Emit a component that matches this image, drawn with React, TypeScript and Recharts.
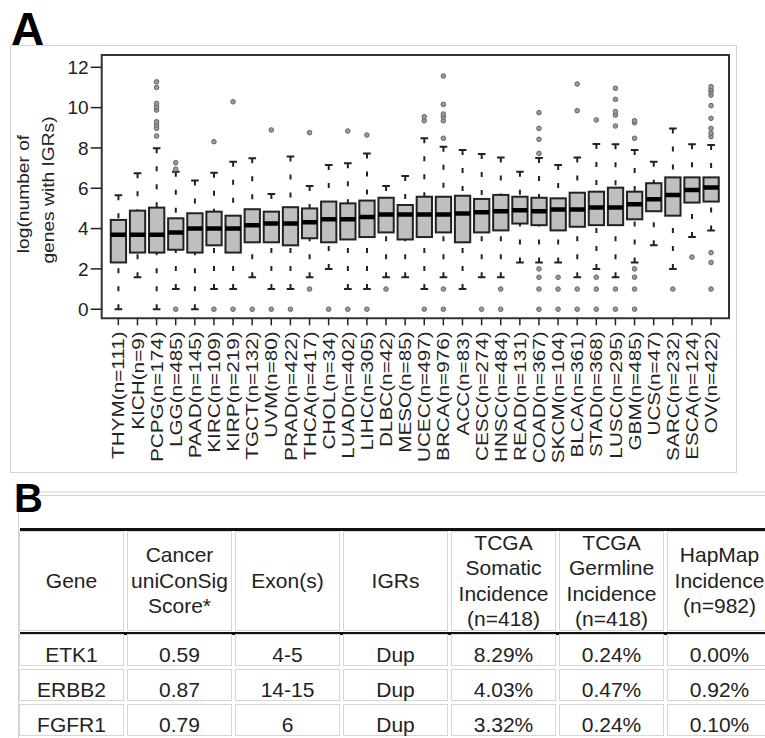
import React from "react";
import { Bar, ComposedChart, ReferenceArea, Scatter, XAxis, YAxis } from "recharts";

// panel A: one box per TCGA cancer type, values are log2(number of genes with IGRs)
const cancers = [
  "THYM(n=111)", "KICH(n=9)", "PCPG(n=174)", "LGG(n=485)", "PAAD(n=145)", "KIRC(n=109)",
  "KIRP(n=219)", "TGCT(n=132)", "UVM(n=80)", "PRAD(n=422)", "THCA(n=417)", "CHOL(n=34)",
  "LUAD(n=402)", "LIHC(n=305)", "DLBC(n=42)", "MESO(n=85)", "UCEC(n=497)", "BRCA(n=976)",
  "ACC(n=83)", "CESC(n=274)", "HNSC(n=484)", "READ(n=131)", "COAD(n=367)", "SKCM(n=104)",
  "BLCA(n=361)", "STAD(n=368)", "LUSC(n=295)", "GBM(n=485)", "UCS(n=47)", "SARC(n=232)",
  "ESCA(n=124)", "OV(n=422)",
];

const lowWhisker = [
  0, 1.585, 0, 1, 0, 1, 1, 1.585, 1, 1, 1.585, 2, 1, 1, 1.585, 1.585,
  1, 1.585, 1, 1.585, 1.585, 2.32, 2.32, 2.32, 1.585, 2, 1.585, 2.32, 3.17, 2, 3.58, 3.91,
];
const q1 = [
  2.32, 2.81, 2.81, 2.95, 2.81, 3.17, 2.81, 3.32, 3.32, 3.17, 3.52, 3.32, 3.46, 3.58, 3.81, 3.46,
  3.58, 3.81, 3.32, 3.81, 3.91, 4.25, 4.17, 3.91, 4.09, 4.17, 4.17, 4.46, 4.86, 4.64, 5.29, 5.34,
];
const medians = [
  3.7, 3.7, 3.7, 3.81, 4, 4, 4, 4.17, 4.25, 4.25, 4.32, 4.46, 4.46, 4.58, 4.7, 4.7,
  4.7, 4.7, 4.75, 4.81, 4.86, 4.91, 4.86, 4.95, 4.95, 5.04, 5.04, 5.21, 5.46, 5.67, 5.91, 6.04,
];
const q3 = [
  4.43, 4.89, 5.04, 4.51, 4.76, 4.84, 4.64, 4.96, 4.84, 5.06, 5.0, 5.34, 5.25, 5.39, 5.53, 5.17,
  5.58, 5.58, 5.63, 5.47, 5.67, 5.58, 5.53, 5.5, 5.78, 5.83, 6.03, 5.83, 6.25, 6.54, 6.54, 6.54,
];
const highWhisker = [
  5.65, 6.74, 7.98, 6.82, 6.38, 6.77, 7.32, 7.49, 5.72, 7.57, 6.11, 7.15, 7.24, 7.73, 6.11, 6.61,
  8.48, 8.06, 7.9, 7.7, 7.53, 6.82, 7.5, 7.15, 7.53, 8.2, 8.18, 7.9, 7.32, 8.97, 8.18, 8.15,
];
const outliers: number[][] = [
  [],
  [],
  [8.59, 8.97, 9.14, 9.3, 9.88, 10.04, 10.21, 11.0, 11.28],
  [0, 6.95, 7.27],
  [],
  [0, 8.31],
  [0, 10.29],
  [0],
  [0, 8.89],
  [0],
  [1, 8.76],
  [0],
  [0, 8.84],
  [0, 8.64],
  [1],
  [],
  [0, 9.35, 9.55],
  [0, 1, 8.48, 9.35, 9.55, 9.68, 10.16, 11.57],
  [],
  [0],
  [0, 1],
  [],
  [0, 1, 1.585, 2, 7.73, 8.43, 8.97, 9.75],
  [0, 1, 1.585],
  [0, 1, 9.85, 11.17],
  [0, 1, 1.585, 9.39],
  [0, 1, 9.09, 9.63, 9.8, 10.41, 10.96],
  [0, 1, 1.585, 2, 8.48, 9.25, 9.35],
  [],
  [1],
  [2.585],
  [1, 2.32, 2.81, 8.56, 8.73, 8.97, 9.47, 10.1, 10.62, 10.79, 10.9, 11.04],
];
const yTicks = [0, 2, 4, 6, 8, 10, 12];

// panel B table
const headerLines = [
  ["Gene"],
  ["Cancer", "uniConSig", "Score*"],
  ["Exon(s)"],
  ["IGRs"],
  ["TCGA", "Somatic", "Incidence", "(n=418)"],
  ["TCGA", "Germline", "Incidence", "(n=418)"],
  ["HapMap", "Incidence", "(n=982)"],
];
const genes = ["ETK1", "ERBB2", "FGFR1"];
const uniConSig = ["0.59", "0.87", "0.79"];
const exons = ["4-5", "14-15", "6"];
const igrs = ["Dup", "Dup", "Dup"];
const somatic = ["8.29%", "4.03%", "3.32%"];
const germline = ["0.24%", "0.47%", "0.24%"];
const hapmap = ["0.00%", "0.92%", "0.10%"];

const rows = cancers.map((name, i) => ({
  i,
  name,
  lo: lowWhisker[i],
  q1: q1[i],
  med: medians[i],
  q3: q3[i],
  hi: highWhisker[i],
}));
const outlierPoints = outliers.flatMap((vals, i) => vals.map((v) => ({ i, v })));
const tableRows = genes.map((g, r) => [g, uniConSig[r], exons[r], igrs[r], somatic[r], germline[r], hapmap[r]]);

const X_DOMAIN: [number, number] = [-0.87, 31.94];
const Y_DOMAIN: [number, number] = [-0.45, 12.61];
const BOX_W = 15.3;
const INK = "#222";
const FONT = '"Liberation Sans", Arial, Helvetica, sans-serif';

const span = (p: any) => {
  const top = Math.min(p.y, p.y + p.height);
  const bot = Math.max(p.y, p.y + p.height);
  return { cx: p.x + p.width / 2, top, bot };
};

const LowerWhisker = (p: any) => {
  const { cx, top, bot } = span(p);
  return (
    <g stroke={INK} strokeWidth={2}>
      <line x1={cx} x2={cx} y1={bot} y2={top} strokeDasharray="5 13" />
      <line x1={cx - BOX_W / 4} x2={cx + BOX_W / 4} y1={bot} y2={bot} />
    </g>
  );
};

const UpperWhisker = (p: any) => {
  const { cx, top, bot } = span(p);
  return (
    <g stroke={INK} strokeWidth={2}>
      <line x1={cx} x2={cx} y1={top} y2={bot} strokeDasharray="5 13" />
      <line x1={cx - BOX_W / 4} x2={cx + BOX_W / 4} y1={top} y2={top} />
    </g>
  );
};

const BoxShape = (p: any) => {
  const { top, bot } = span(p);
  return <rect x={p.x} y={top} width={p.width} height={bot - top} fill="#bfbfbf" stroke={INK} strokeWidth={2} />;
};

const MedianShape = (p: any) => (
  <line x1={p.cx - BOX_W / 2} x2={p.cx + BOX_W / 2} y1={p.cy} y2={p.cy} stroke="#000" strokeWidth={4.5} />
);

const OutlierShape = (p: any) => <circle cx={p.cx} cy={p.cy} r={2.3} fill="#9a9a9a" stroke="#666" strokeWidth={1} />;

const CancerTick = ({ x, y, payload }: any) => (
  <text
    transform={`translate(${x},${y + 4}) rotate(-90) scale(1.22,1)`}
    textAnchor="end"
    dy="0.36em"
    fontSize={17}
    fontFamily={FONT}
    fill={INK}
  >
    {cancers[payload.value]}
  </text>
);

function BoxPanel() {
  return (
    <ComposedChart width={765} height={475} data={rows} margin={{ top: 55, right: 36, bottom: 6.7, left: 41.7 }}>
      <XAxis
        xAxisId="a"
        type="number"
        dataKey="i"
        domain={X_DOMAIN}
        allowDataOverflow
        ticks={rows.map((r) => r.i)}
        interval={0}
        height={150}
        axisLine={false}
        tickSize={7}
        tickLine={{ stroke: INK, strokeWidth: 1.5 }}
        tick={<CancerTick />}
      />
      <XAxis xAxisId="b" type="number" dataKey="i" domain={X_DOMAIN} allowDataOverflow hide />
      <XAxis xAxisId="c" type="number" dataKey="i" domain={X_DOMAIN} allowDataOverflow hide />
      <YAxis
        type="number"
        domain={Y_DOMAIN}
        allowDataOverflow
        ticks={yTicks}
        interval={0}
        width={60}
        axisLine={false}
        tickSize={11}
        tickLine={{ stroke: INK, strokeWidth: 1.5 }}
        tick={{ fontSize: 19, fill: INK, fontFamily: FONT }}
      />
      <Bar xAxisId="b" dataKey={(d: any) => [d.lo, d.q1]} barSize={BOX_W} shape={LowerWhisker} isAnimationActive={false} />
      <Bar xAxisId="c" dataKey={(d: any) => [d.q3, d.hi]} barSize={BOX_W} shape={UpperWhisker} isAnimationActive={false} />
      <Bar xAxisId="a" dataKey={(d: any) => [d.q1, d.q3]} barSize={BOX_W} shape={BoxShape} isAnimationActive={false} />
      <Scatter xAxisId="a" data={rows} dataKey="med" shape={MedianShape} isAnimationActive={false} />
      <Scatter xAxisId="a" data={outlierPoints} dataKey="v" shape={OutlierShape} isAnimationActive={false} />
      <ReferenceArea
        xAxisId="a"
        x1={X_DOMAIN[0]}
        x2={X_DOMAIN[1]}
        y1={Y_DOMAIN[0]}
        y2={Y_DOMAIN[1]}
        fill="none"
        fillOpacity={0}
        stroke="#333"
        strokeWidth={2}
        ifOverflow="visible"
      />
    </ComposedChart>
  );
}

const cellBase: React.CSSProperties = {
  border: "1px solid #d6d6d6",
  padding: 0,
  textAlign: "center",
  fontSize: 21,
  color: INK,
};

function GeneTable() {
  return (
    <table
      style={{
        position: "absolute",
        left: 16,
        top: 527.7,
        width: 759,
        tableLayout: "fixed",
        borderCollapse: "separate",
        borderSpacing: "3.5px",
        fontFamily: FONT,
      }}
    >
      <colgroup>
        {headerLines.map((_, c) => (
          <col key={c} style={{ width: 104.4 }} />
        ))}
      </colgroup>
      <thead>
        <tr style={{ height: 100 }}>
          {headerLines.map((lines, c) => (
            <th key={c} style={{ ...cellBase, fontWeight: "normal", verticalAlign: "middle" }}>
              <div
                style={{
                  height: 98,
                  display: "flex",
                  flexDirection: "column",
                  justifyContent: "center",
                  alignItems: "center",
                  lineHeight: "25.5px",
                  whiteSpace: "nowrap",
                }}
              >
                {lines.map((l, k) => (
                  <span key={k}>{l}</span>
                ))}
              </div>
            </th>
          ))}
        </tr>
      </thead>
      <tbody>
        {tableRows.map((cells, r) => (
          <tr key={r} style={{ height: 32.2 }}>
            {cells.map((v, c) => (
              <td key={c} style={{ ...cellBase, lineHeight: "20px", verticalAlign: "bottom", whiteSpace: "nowrap" }}>
                {v}
              </td>
            ))}
          </tr>
        ))}
      </tbody>
    </table>
  );
}

export default function App() {
  return (
    <div
      style={{
        position: "fixed",
        left: 0,
        top: 0,
        width: 765,
        height: 738,
        overflow: "hidden",
        background: "#fff",
        fontFamily: FONT,
        color: INK,
      }}
    >
      <svg width={765} height={738} style={{ position: "absolute", left: 0, top: 0 }}>
        <rect x={10.5} y={45.5} width={726} height={427} fill="none" stroke="#d4d4d4" />
        <line x1={20} x2={765} y1={492} y2={492} stroke="#d4d4d4" />
        <line x1={18} x2={765} y1={495.5} y2={495.5} stroke="#d4d4d4" />
        <line x1={18.5} x2={18.5} y1={495.5} y2={738} stroke="#d4d4d4" />
        <text x={11} y={45} fontSize={46} fontWeight="bold" fill="#000">A</text>
        <text x={14} y={511.5} fontSize={40} fontWeight="bold" fill="#000">B</text>
        <text
          transform="translate(23.5,194) rotate(-90) scale(1.2,1)"
          textAnchor="middle"
          dy="0.36em"
          fontSize={16}
          fill={INK}
        >
          log(number of
        </text>
        <text
          transform="translate(48,190) rotate(-90) scale(1.2,1)"
          textAnchor="middle"
          dy="0.36em"
          fontSize={16}
          fill={INK}
        >
          genes with IGRs)
        </text>
      </svg>
      <div style={{ position: "absolute", left: 0, top: 0 }}>
        <BoxPanel />
      </div>
      <div style={{ position: "absolute", left: 20, top: 528.3, width: 760, height: 2.5, background: "#111" }} />
      <div style={{ position: "absolute", left: 20, top: 632.3, width: 760, height: 2.4, background: "#111" }} />
      <GeneTable />
    </div>
  );
}
